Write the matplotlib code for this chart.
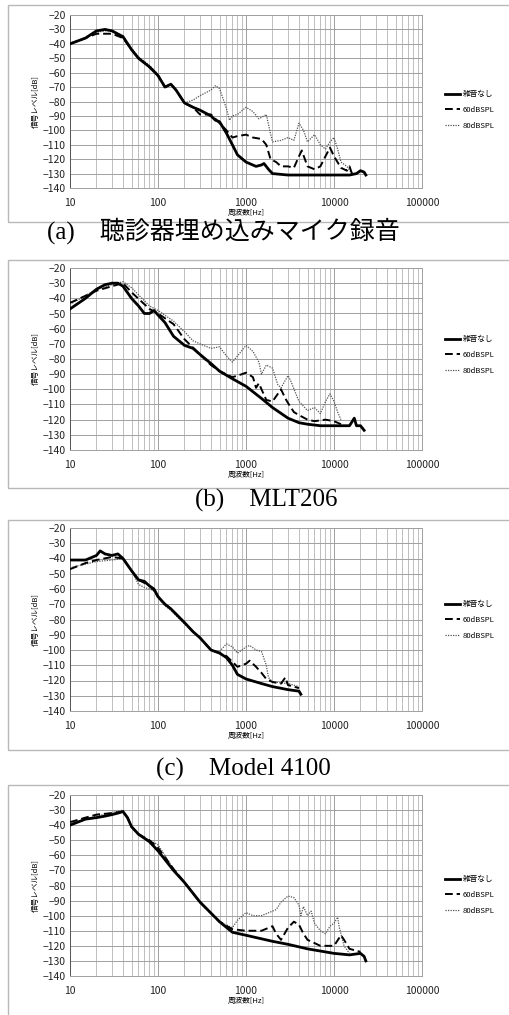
import matplotlib
matplotlib.use("Agg")
from matplotlib import pyplot as plt
from matplotlib.patches import Rectangle
from matplotlib.ticker import FixedLocator, NullFormatter
import numpy as np

plt.rcParams['font.family'] = ['Noto Sans CJK JP', 'DejaVu Sans']

# --- data (frequency Hz, level dB) -----------------------------------------------
# (a) stethoscope-embedded mic
a_clean_f = [10, 15, 20, 25, 30, 40, 50, 60, 80, 100, 120, 140, 160, 200, 250, 300, 400, 450, 500,
             600, 700, 800, 1000, 1300, 1500, 1600, 1800, 2000, 3000, 5000, 10000, 15000, 18000, 20000, 22000, 23000]
a_clean_v = [-40, -36, -31, -30, -31, -35, -44, -50, -56, -62, -70, -68, -72, -81, -84, -86, -90, -93, -94,
             -102, -110, -117, -122, -125, -124, -123, -127, -130, -131, -131, -131, -131, -130, -128, -129, -131]
a_60_f = [10, 15, 20, 25, 30, 40, 50, 60, 80, 100, 120, 140, 160, 200, 250, 300, 400, 450, 500, 600, 700, 800,
          1000, 1200, 1500, 1700, 1900, 2200, 2500, 3000, 3500, 4000, 4300, 5000, 6000, 7000, 8000, 9000, 10000,
          12000, 14000, 15000, 16000]
a_60_v = [-40, -36, -33, -33, -33, -36, -44, -50, -56, -62, -70, -68, -72, -81, -84, -89, -89, -92, -95, -100,
          -105, -104, -103, -105, -106, -110, -120, -122, -125, -125, -126, -118, -114, -125, -127, -125, -118, -112,
          -118, -126, -128, -125, -130]
a_80_f = [10, 15, 20, 25, 30, 40, 50, 60, 80, 100, 120, 140, 160, 200, 250, 300, 400, 450, 500, 600, 650, 700,
          800, 1000, 1200, 1400, 1600, 1700, 1800, 2000, 2500, 3000, 3500, 4000, 4500, 5000, 6000, 7000, 8000,
          9000, 10000, 11000, 12000, 14000, 16000]
a_80_v = [-40, -36, -32, -31, -31, -36, -43, -49, -55, -61, -70, -68, -72, -81, -79, -76, -72, -69, -71, -85,
          -93, -90, -89, -84, -87, -92, -90, -89, -96, -108, -107, -105, -107, -95, -100, -108, -103, -110, -113,
          -108, -105, -113, -122, -125, -130]

# (b) MLT206
b_clean_f = [10, 15, 20, 25, 30, 35, 40, 50, 60, 70, 80, 90, 100, 120, 150, 200, 250, 300, 400, 500, 700, 1000,
             1500, 2000, 3000, 4000, 5000, 7000, 10000, 15000, 17000, 18000, 20000, 22000]
b_clean_v = [-47, -40, -34, -31, -30, -30, -32, -40, -45, -50, -50, -48, -51, -56, -65, -71, -73, -77, -83, -88,
             -93, -98, -106, -112, -119, -122, -123, -124, -124, -124, -119, -124, -124, -127]
b_60_f = [10, 20, 30, 40, 50, 80, 100, 150, 200, 300, 400, 500, 700, 900, 1000, 1200, 1300, 1400, 1500, 1700,
          2000, 2500, 2800, 3000, 3500, 4000, 5000, 6000, 8000, 10000, 12000]
b_60_v = [-43, -35, -32, -30, -36, -47, -50, -57, -67, -77, -84, -88, -92, -90, -89, -92, -99, -96, -100, -107,
          -108, -100, -106, -109, -115, -117, -120, -121, -120, -121, -123]
b_80_f = [10, 20, 30, 40, 50, 80, 100, 150, 200, 250, 300, 400, 500, 600, 700, 800, 1000, 1200, 1400, 1500,
          1700, 2000, 2300, 2500, 3000, 3200, 4000, 5000, 6000, 7000, 8000, 9000, 10000, 11000, 12000]
b_80_v = [-44, -34, -31, -29, -33, -45, -48, -55, -62, -68, -70, -73, -72, -78, -82, -78, -71, -75, -82, -90,
          -84, -86, -97, -99, -91, -94, -108, -114, -112, -116, -108, -103, -108, -115, -120]

# (c) Model 4100
c_clean_f = [10, 15, 20, 22, 25, 30, 35, 40, 50, 60, 70, 80, 90, 100, 120, 140, 200, 250, 300, 400, 500, 600,
             700, 800, 1000, 1500, 2000, 3000, 4000, 4200]
c_clean_v = [-41, -41, -38, -35, -37, -38, -37, -40, -48, -54, -55, -58, -60, -65, -70, -73, -82, -88, -92, -100,
             -102, -105, -110, -116, -119, -122, -124, -126, -127, -129]
c_60_f = [10, 15, 20, 30, 40, 50, 60, 70, 80, 90, 100, 120, 140, 200, 250, 300, 400, 500, 600, 800, 1000, 1100,
          1300, 1500, 1700, 2000, 2500, 2800, 3000, 4000]
c_60_v = [-47, -43, -41, -39, -40, -48, -54, -56, -58, -61, -65, -70, -73, -82, -88, -92, -100, -102, -104, -111,
          -109, -107, -111, -115, -119, -121, -122, -118, -123, -125]
c_80_f = [10, 20, 30, 40, 50, 60, 70, 80, 90, 100, 120, 140, 200, 250, 300, 400, 500, 600, 700, 800, 900, 1000,
          1100, 1300, 1500, 1700, 1800, 2000, 3000, 4000]
c_80_v = [-46, -42, -41, -40, -48, -57, -59, -60, -61, -66, -71, -74, -83, -88, -92, -100, -101, -96, -98, -102,
          -100, -98, -97, -100, -101, -110, -118, -121, -122, -124]

# (d)
d_clean_f = [10, 15, 20, 25, 30, 35, 40, 45, 50, 60, 80, 100, 150, 200, 300, 500, 700, 1000, 2000, 3000, 5000,
             10000, 15000, 20000, 22000, 23000]
d_clean_v = [-40, -36, -35, -34, -33, -32, -31, -35, -41, -46, -51, -57, -70, -78, -91, -104, -111, -113, -117,
             -119, -122, -125, -126, -125, -127, -130]
d_60_f = [10, 15, 20, 30, 40, 45, 50, 60, 80, 100, 150, 200, 300, 500, 700, 1000, 1500, 2000, 2200, 2500, 3000,
          3500, 4000, 4500, 5000, 7000, 10000, 12000, 13000, 15000, 20000]
d_60_v = [-38, -35, -33, -32, -31, -35, -41, -46, -50, -55, -69, -78, -91, -104, -109, -110, -110, -107, -112,
          -116, -108, -104, -106, -112, -116, -120, -120, -113, -116, -122, -124]
d_80_f = [10, 20, 40, 45, 50, 60, 80, 100, 150, 200, 300, 500, 700, 800, 1000, 1200, 1500, 2000, 2200, 2500,
          3000, 3500, 4000, 4200, 4500, 5000, 5500, 6000, 7000, 8000, 9000, 10000, 11000, 11500, 12000, 13000, 15000]
d_80_v = [-39, -34, -30, -35, -41, -46, -50, -53, -69, -78, -91, -104, -108, -103, -98, -100, -100, -97, -96,
          -91, -87, -88, -93, -100, -94, -100, -97, -105, -110, -112, -107, -105, -101, -108, -112, -120, -125]

series_names = ['雑音なし', '60dBSPL', '80dBSPL']
captions = ['(a)\u3000聴診器埋め込みマイク録音', '(b)\u3000MLT206', '(c)\u3000Model 4100']
y_ticks = list(range(-20, -141, -10))
x_ticks = [10, 100, 1000, 10000, 100000]

panels = [
    (a_clean_f, a_clean_v, a_60_f, a_60_v, a_80_f, a_80_v),
    (b_clean_f, b_clean_v, b_60_f, b_60_v, b_80_f, b_80_v),
    (c_clean_f, c_clean_v, c_60_f, c_60_v, c_80_f, c_80_v),
    (d_clean_f, d_clean_v, d_60_f, d_60_v, d_80_f, d_80_v),
]

# --- layout (pixels) -------------------------------------------------------------
W, H = 510, 1015
ax_rows = [(15, 188), (268, 450), (528, 711), (795, 976)]
box_rows = [(5, 222), (260, 488), (520, 750), (785, 1030)]
cap_y = [231, 500, 769]
cap_x = [47, 195, 156]
leg_y = [110, 355, 620, 895]

fig = plt.figure(figsize=(W / 100, H / 100), dpi=100)
fig.patch.set_facecolor('white')

for (top, bot) in box_rows:
    fig.patches.append(Rectangle((8 / W, 1 - bot / H), (W - 6) / W, (bot - top) / H,
                                 transform=fig.transFigure, fill=False,
                                 edgecolor='#b8b8b8', linewidth=1.0))

for i, (cf, cv, f60, v60, f80, v80) in enumerate(panels):
    top, bot = ax_rows[i]
    ax = fig.add_axes([70 / W, 1 - bot / H, 352 / W, (bot - top) / H])
    ax.set_xscale('log')
    ax.set_xlim(10, 100000)
    ax.set_ylim(-140, -20)
    ax.xaxis.set_major_locator(FixedLocator(x_ticks))
    ax.xaxis.set_minor_locator(FixedLocator([m * 10 ** e for e in range(1, 5) for m in range(2, 10)]))
    ax.xaxis.set_minor_formatter(NullFormatter())
    ax.set_xticks(x_ticks)
    ax.set_xticklabels([str(t) for t in x_ticks], fontsize=7.5)
    ax.set_yticks(y_ticks)
    ax.set_yticklabels(['\u2212%d' % abs(t) for t in y_ticks], fontsize=7.5)
    ax.tick_params(axis='both', which='both', length=0, pad=3, colors='#222222')
    ax.tick_params(axis='x', pad=7)
    ax.grid(True, which='major', color='#a0a0a0', linewidth=0.7)
    ax.grid(True, which='minor', axis='x', color='#b4b4b4', linewidth=0.6)
    for s in ax.spines.values():
        s.set_color('#a0a0a0')
        s.set_linewidth(0.7)
    ax.spines['left'].set_color('#555555')

    l1, = ax.plot(cf, cv, color='black', linewidth=2.0, label=series_names[0], zorder=4)
    l2, = ax.plot(f60, v60, color='black', linewidth=1.4, linestyle=(0, (4, 2)), label=series_names[1], zorder=3)
    l3, = ax.plot(f80, v80, color='#555555', linewidth=0.9, linestyle=(0, (1, 1)), label=series_names[2], zorder=2)

    ax.set_xlabel('周波数[Hz]', fontsize=5.5, labelpad=1)
    ax.set_ylabel('信号レベル[dB]', fontsize=5.5, labelpad=2)

    fig.legend(handles=[l1, l2, l3], loc='center left',
               bbox_to_anchor=(442 / W, 1 - leg_y[i] / H),
               frameon=False, fontsize=5.5, handlelength=2.0, handletextpad=0.3,
               labelspacing=1.0, borderaxespad=0)

for i, cap in enumerate(captions):
    fig.text(cap_x[i] / W, 1 - cap_y[i] / H, cap, ha='left', va='center', fontsize=18,
             family=['Liberation Serif', 'Noto Sans CJK JP'])

fig.savefig('out.png', dpi=100)
